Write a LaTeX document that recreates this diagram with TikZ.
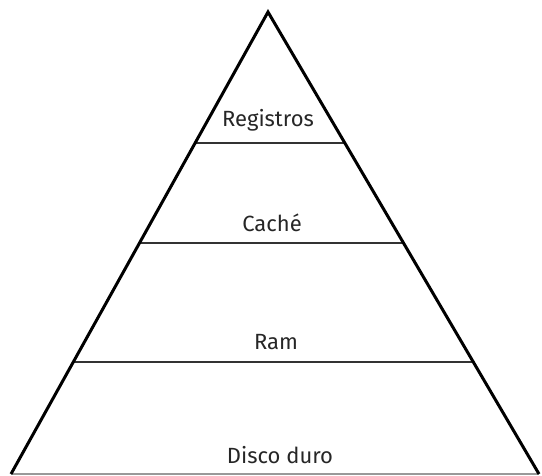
\documentclass[tikz,border=0pt]{standalone}
\usepackage{fontspec}
\setmainfont{Fira Sans}
\usetikzlibrary{calc}
\begin{document}
\begin{tikzpicture}[x=1pt,y=-1pt,
  side/.style={line width=3pt,line join=miter,black},
  level/.style={line width=1.6pt,draw=black!80},
  base/.style={line width=1.2pt,draw=black!40},
  lbl/.style={font=\fontsize{22}{26}\selectfont,text=black!85,inner sep=0pt}]
  \useasboundingbox (0,0) rectangle (542,476);
  % pyramid corners
  \coordinate (apex) at (268,12);
  \coordinate (bl) at (11,474);
  \coordinate (br) at (539,474);
  % level boundaries on each side
  \coordinate (l1) at ($(apex)!131/462!(bl)$);
  \coordinate (r1) at ($(apex)!131/462!(br)$);
  \coordinate (l2) at ($(apex)!231/462!(bl)$);
  \coordinate (r2) at ($(apex)!231/462!(br)$);
  \coordinate (l3) at ($(apex)!350/462!(bl)$);
  \coordinate (r3) at ($(apex)!350/462!(br)$);
  \draw[level] (l1) -- (r1);
  \draw[level] (l2) -- (r2);
  \draw[level] (l3) -- (r3);
  \draw[base] (bl) -- (br);
  \draw[side] (bl) -- (apex) -- (br);
  \node[lbl] (reg) at (268,120) {Registros};
  \node[lbl] (cache) at (272,223) {Caché};
  \node[lbl] (ram) at (276,342) {Ram};
  \node[lbl] (disco) at (280,455) {Disco duro};
\end{tikzpicture}
\end{document}
